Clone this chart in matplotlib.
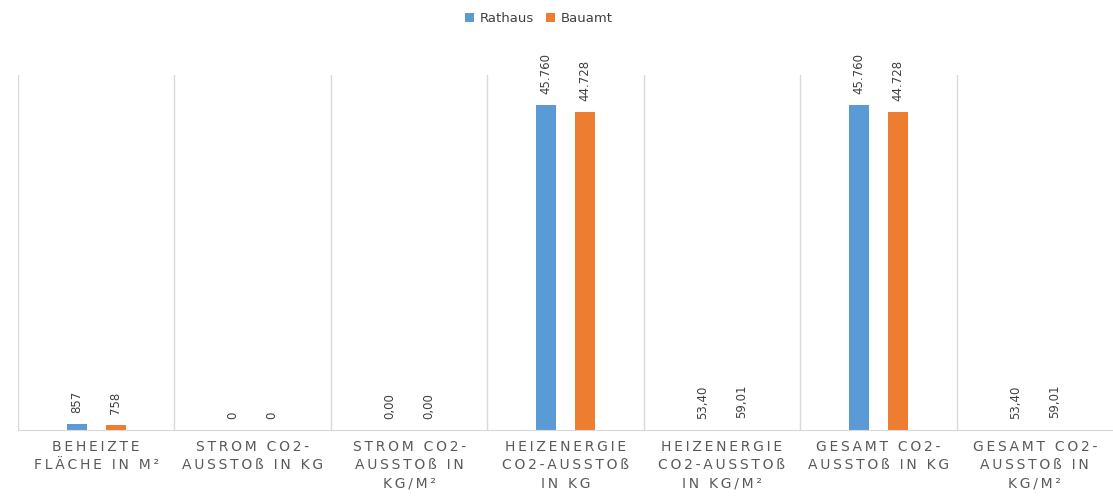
import numpy as np
import matplotlib.pyplot as plt

categories = [
    "BEHEIZTE\nFLÄCHE IN M²",
    "STROM CO2-\nAUSSTOß IN KG",
    "STROM CO2-\nAUSSTOß IN\nKG/M²",
    "HEIZENERGIE\nCO2-AUSSTOß\nIN KG",
    "HEIZENERGIE\nCO2-AUSSTOß\nIN KG/M²",
    "GESAMT CO2-\nAUSSTOß IN KG",
    "GESAMT CO2-\nAUSSTOß IN\nKG/M²",
]
rathaus = [857, 0, 0.00, 45760, 53.40, 45760, 53.40]
bauamt = [758, 0, 0.00, 44728, 59.01, 44728, 59.01]
rathaus_labels = ["857", "0", "0,00", "45.760", "53,40", "45.760", "53,40"]
bauamt_labels = ["758", "0", "0,00", "44.728", "59,01", "44.728", "59,01"]

blue = "#5B9BD5"
orange = "#ED7D31"
grid = "#D9D9D9"


def spaced(s):
    # letter spacing like the office chart style
    return "\n".join("\u2009".join(line) for line in s.split("\n"))


fig = plt.figure(figsize=(11.13, 5.0), dpi=100)
ax = fig.add_axes([0.0162, 0.14, 0.9838, 0.71])

x = np.arange(len(categories))
w = 0.13
off = 0.125
b1 = ax.bar(x - off, rathaus, w, color=blue, label="Rathaus")
b2 = ax.bar(x + off, bauamt, w, color=orange, label="Bauamt")

for bars, labels in [(b1, rathaus_labels), (b2, bauamt_labels)]:
    for rect, lab in zip(bars, labels):
        ax.annotate(lab, (rect.get_x() + rect.get_width() / 2, rect.get_height()),
                    xytext=(0, 8), textcoords="offset points", rotation=90,
                    ha="center", va="bottom", fontsize=8.5, color="#404040")

ax.set_xlim(-0.5, len(categories) - 0.5)
ax.set_ylim(0, 50000)
for b in np.arange(-0.5, len(categories) - 0.5, 1.0):
    ax.axvline(b, color=grid, lw=1, zorder=0)

for s in ["top", "right", "left"]:
    ax.spines[s].set_visible(False)
ax.spines["bottom"].set_color(grid)
ax.set_yticks([])
ax.set_xticks(x)
ax.set_xticklabels([spaced(c) for c in categories], fontsize=10, color="#595959",
                   linespacing=1.4)
ax.tick_params(axis="x", length=0, pad=7)

fig.legend(loc="center", bbox_to_anchor=(0.484, 0.963), ncol=2, frameon=False,
           fontsize=9.5, handlelength=0.7, handleheight=0.7, columnspacing=0.9,
           handletextpad=0.4, labelcolor="#404040")

fig.savefig("out.png", dpi=100)
